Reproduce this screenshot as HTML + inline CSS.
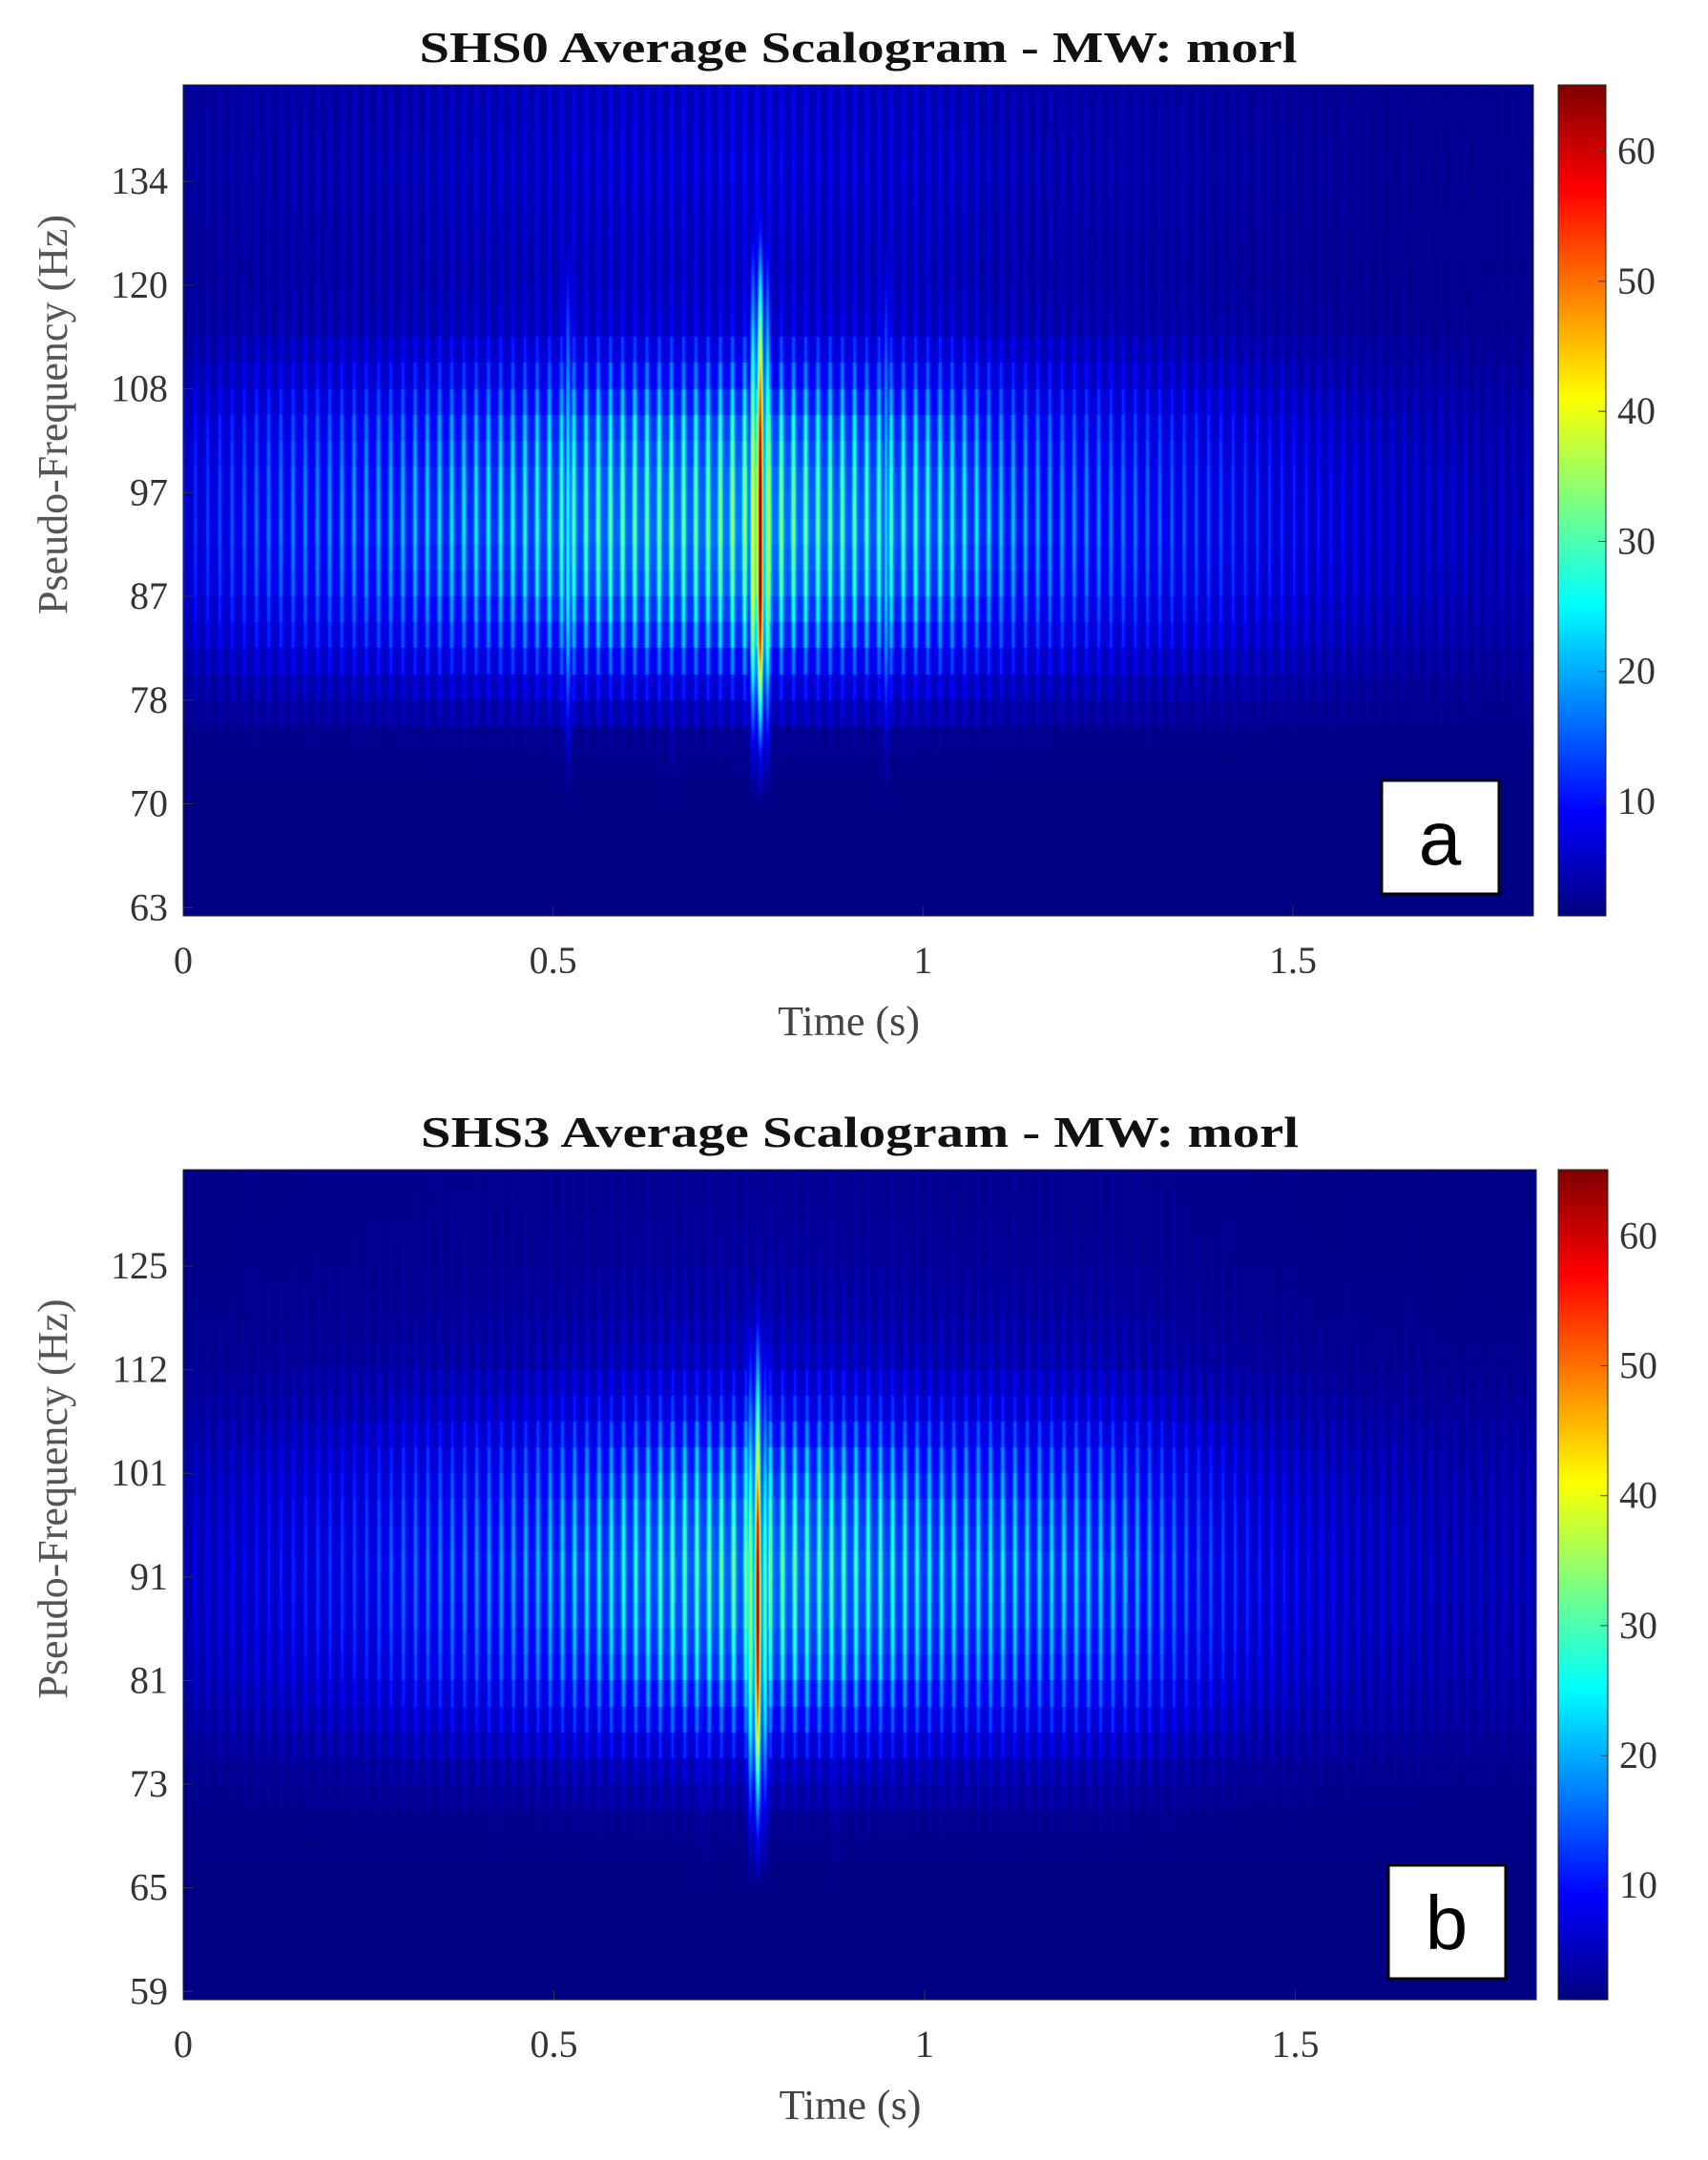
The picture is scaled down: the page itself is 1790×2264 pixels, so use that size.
<!DOCTYPE html>
<html><head><meta charset="utf-8"><style>
html,body{margin:0;padding:0;background:#fff;}
#wrap{position:relative;width:1790px;height:2264px;overflow:hidden;background:#fff;}
canvas{position:absolute;}
svg{position:absolute;left:0;top:0;}
text{font-family:"Liberation Serif",serif;}
</style></head><body>
<div id="wrap">
<canvas id="hmA" width="1415" height="871" style="left:192px;top:89px"></canvas>
<canvas id="hmB" width="1418" height="870" style="left:192px;top:1226px"></canvas>
<canvas id="cbA" width="50" height="871" style="left:1633px;top:89px"></canvas>
<canvas id="cbB" width="52" height="870" style="left:1633px;top:1226px"></canvas>
<svg id="ov" width="1790" height="2264"></svg>
</div>
<script>
// ---- data ----
const timeStep = 0.05;
const envA = [8,10,12,13,14,15,16,18,19,20,22,24,25,25,25,28,27,25,24,23,22,20,17,15,14,13,12,11,10,9,8,7,6,5,5,4,4,4];
const envB = [5,6,7,8,9,10,12,13,14,15,17,19,21,23,24,25,25,24,23,22,20,19,19,18,18,17,15,12,10,8,7,6,5,5,4,4,4,4];
const profA = [0,0,0,0.05,0.3,0.65,0.9,1.0,0.95,0.8,0.5,0.25,0.2,0.22,0.25,0.22,0.2];
const profB = [0,0,0,0.05,0.2,0.5,0.8,0.95,1.0,0.9,0.7,0.4,0.2,0.12,0.08,0.06,0.05];
const spikeProfA = [0,0,0,0.15,0.45,0.8,1,1,1,0.9,0.75,0.55,0.35,0.15,0.05,0,0];
const spikeProfB = [0,0,0,0.15,0.4,0.7,0.9,1,1,0.9,0.7,0.5,0.3,0.12,0.04,0,0];
const spikeTimesA = [0.78,0.77,0.79,0.52,0.95,0.66];
const spikeAmpsA = [65,40,35,25,22,15];
const spikeTimesB = [0.775,0.765,0.785,0.70,0.88];
const spikeAmpsB = [62,35,30,12,12];
const yTicksA = ["63","70","78","87","97","108","120","134"];
const yTicksB = ["59","65","73","81","91","101","112","125"];
const xTicks = [0,0.5,1,1.5];
const xTickLabels = ["0","0.5","1","1.5"];
const cbTicks = [10,20,30,40,50,60];
const stripePeriod = 0.0165;
const tMax = 1.825, cMin = 1.2, cMax = 65.1, uMin = -0.08, uMax = 7.93;

function jet(v){
  let x = (v-cMin)/(cMax-cMin); x=Math.max(0,Math.min(1,x));
  const f=(a)=>Math.max(0,Math.min(1,1.5-Math.abs(4*x-a)));
  return [f(3)*255,f(2)*255,f(1)*255];
}
function interp(arr,p){
  if(p<=0) return arr[0]; if(p>=arr.length-1) return arr[arr.length-1];
  const i=Math.floor(p), f=p-i; return arr[i]*(1-f)+arr[i+1]*f;
}
function drawHeat(id,env,prof,sp,st,sa){
  const c=document.getElementById(id), ctx=c.getContext('2d'), W=c.width, H=c.height;
  const img=ctx.createImageData(W,H), d=img.data;
  const colEnv=[], colStripe=[], colSpike=[];
  for(let x=0;x<W;x++){
    const t=(x+0.5)/W*tMax;
    colEnv.push(interp(env,t/timeStep));
    const s=Math.cos(Math.PI*t/stripePeriod); colStripe.push(0.55+0.75*Math.pow(s*s,3));
    let k=0; for(let j=0;j<st.length;j++){k+=sa[j]*Math.exp(-Math.pow((t-st[j])/0.004,2));}
    colSpike.push(k);
  }
  for(let y=0;y<H;y++){
    const u=uMax-(y+0.5)/H*(uMax-uMin);
    const uq=Math.floor(u*4)/4;
    const pr=interp(prof,uq/0.5), sr=interp(sp,u/0.5);
    for(let x=0;x<W;x++){
      let v=1.5+colEnv[x]*pr*colStripe[x];
      v=Math.max(v, colSpike[x]*sr + 1.5);
      const col=jet(v), i=(y*W+x)*4;
      d[i]=col[0];d[i+1]=col[1];d[i+2]=col[2];d[i+3]=255;
    }
  }
  ctx.putImageData(img,0,0);
}
function drawCb(id){
  const c=document.getElementById(id), ctx=c.getContext('2d'), W=c.width, H=c.height;
  for(let y=0;y<H;y++){const v=cMax-(y+0.5)/H*(cMax-cMin);const col=jet(v);
    ctx.fillStyle=`rgb(${col[0]|0},${col[1]|0},${col[2]|0})`;ctx.fillRect(0,y,W,1);}
}
drawHeat('hmA',envA,profA,spikeProfA,spikeTimesA,spikeAmpsA);
drawHeat('hmB',envB,profB,spikeProfB,spikeTimesB,spikeAmpsB);
drawCb('cbA');drawCb('cbB');

const svg=document.getElementById('ov'), NS='http://www.w3.org/2000/svg';
function el(tag,attrs,txt){const e=document.createElementNS(NS,tag);for(const k in attrs)e.setAttribute(k,attrs[k]);if(txt!==undefined)e.textContent=txt;svg.appendChild(e);return e;}
function panel(p){
  const xs=t=>p.L+t/tMax*(p.R-p.L);
  const ys=u=>p.B-(u-uMin)/(uMax-uMin)*(p.B-p.T);
  let e=el('rect',{x:p.L,y:p.T,width:p.R-p.L,height:p.B-p.T,fill:'none',stroke:'#222','stroke-width':1});
  
  e=el('text',{x:(p.L+p.R)/2,y:p.T-24,'text-anchor':'middle','font-size':46,'font-weight':'bold',fill:'#111',textLength:920,lengthAdjust:'spacingAndGlyphs'},p.title);
  
  p.yt.forEach((s,i)=>{const y=ys(i);
    let t=el('text',{x:p.L-16,y:y+13,'text-anchor':'end','font-size':40,fill:'#333'},s);
    
    let l=el('line',{x1:p.L,x2:p.L+10,y1:y,y2:y,stroke:'#333','stroke-width':1});
    });
  xTicks.forEach((v,i)=>{const x=xs(v);
    let t=el('text',{x:x,y:p.B+60,'text-anchor':'middle','font-size':40,fill:'#333'},xTickLabels[i]);
    
    let l=el('line',{x1:x,x2:x,y1:p.B,y2:p.B-10,stroke:'#333','stroke-width':1});
    });
  e=el('text',{x:(p.L+p.R)/2-10,y:p.B+125,'text-anchor':'middle','font-size':44,fill:'#444'},'Time (s)');
  
  const cy=(p.T+p.B)/2-90;
  e=el('text',{x:0,y:0,'text-anchor':'middle','font-size':44,fill:'#555',transform:`translate(70,${cy}) rotate(-90)`},'Pseudo-Frequency (Hz)');
  
  e=el('rect',{x:p.cL,y:p.T,width:p.cW,height:p.B-p.T,fill:'none',stroke:'#222','stroke-width':1});
  
  cbTicks.forEach(v=>{const y=p.B-(v-cMin)/(cMax-cMin)*(p.B-p.T);
    let t=el('text',{x:p.cL+p.cW+12,y:y+13,'font-size':40,fill:'#333'},String(v));
    
    let l=el('line',{x1:p.cL+p.cW-8,x2:p.cL+p.cW,y1:y,y2:y,stroke:'#333'});
    });
  e=el('rect',{x:p.bx,y:p.by,width:123,height:119,fill:'#fff',stroke:'#000','stroke-width':3});
  
  e=el('text',{x:p.bx+61,y:p.by+88,'text-anchor':'middle','font-size':80,fill:'#000',style:'font-family:"Liberation Sans",sans-serif'},p.lab);
  
}
panel({n:'panel-a',L:192,R:1607,T:89,B:960,cL:1633,cW:50,title:'SHS0 Average Scalogram - MW: morl',yt:yTicksA,bx:1448,by:818,lab:'a'});
panel({n:'panel-b',L:192,R:1610,T:1226,B:2096,cL:1633,cW:52,title:'SHS3 Average Scalogram - MW: morl',yt:yTicksB,bx:1455,by:1955,lab:'b'});
</script>
</body></html>
